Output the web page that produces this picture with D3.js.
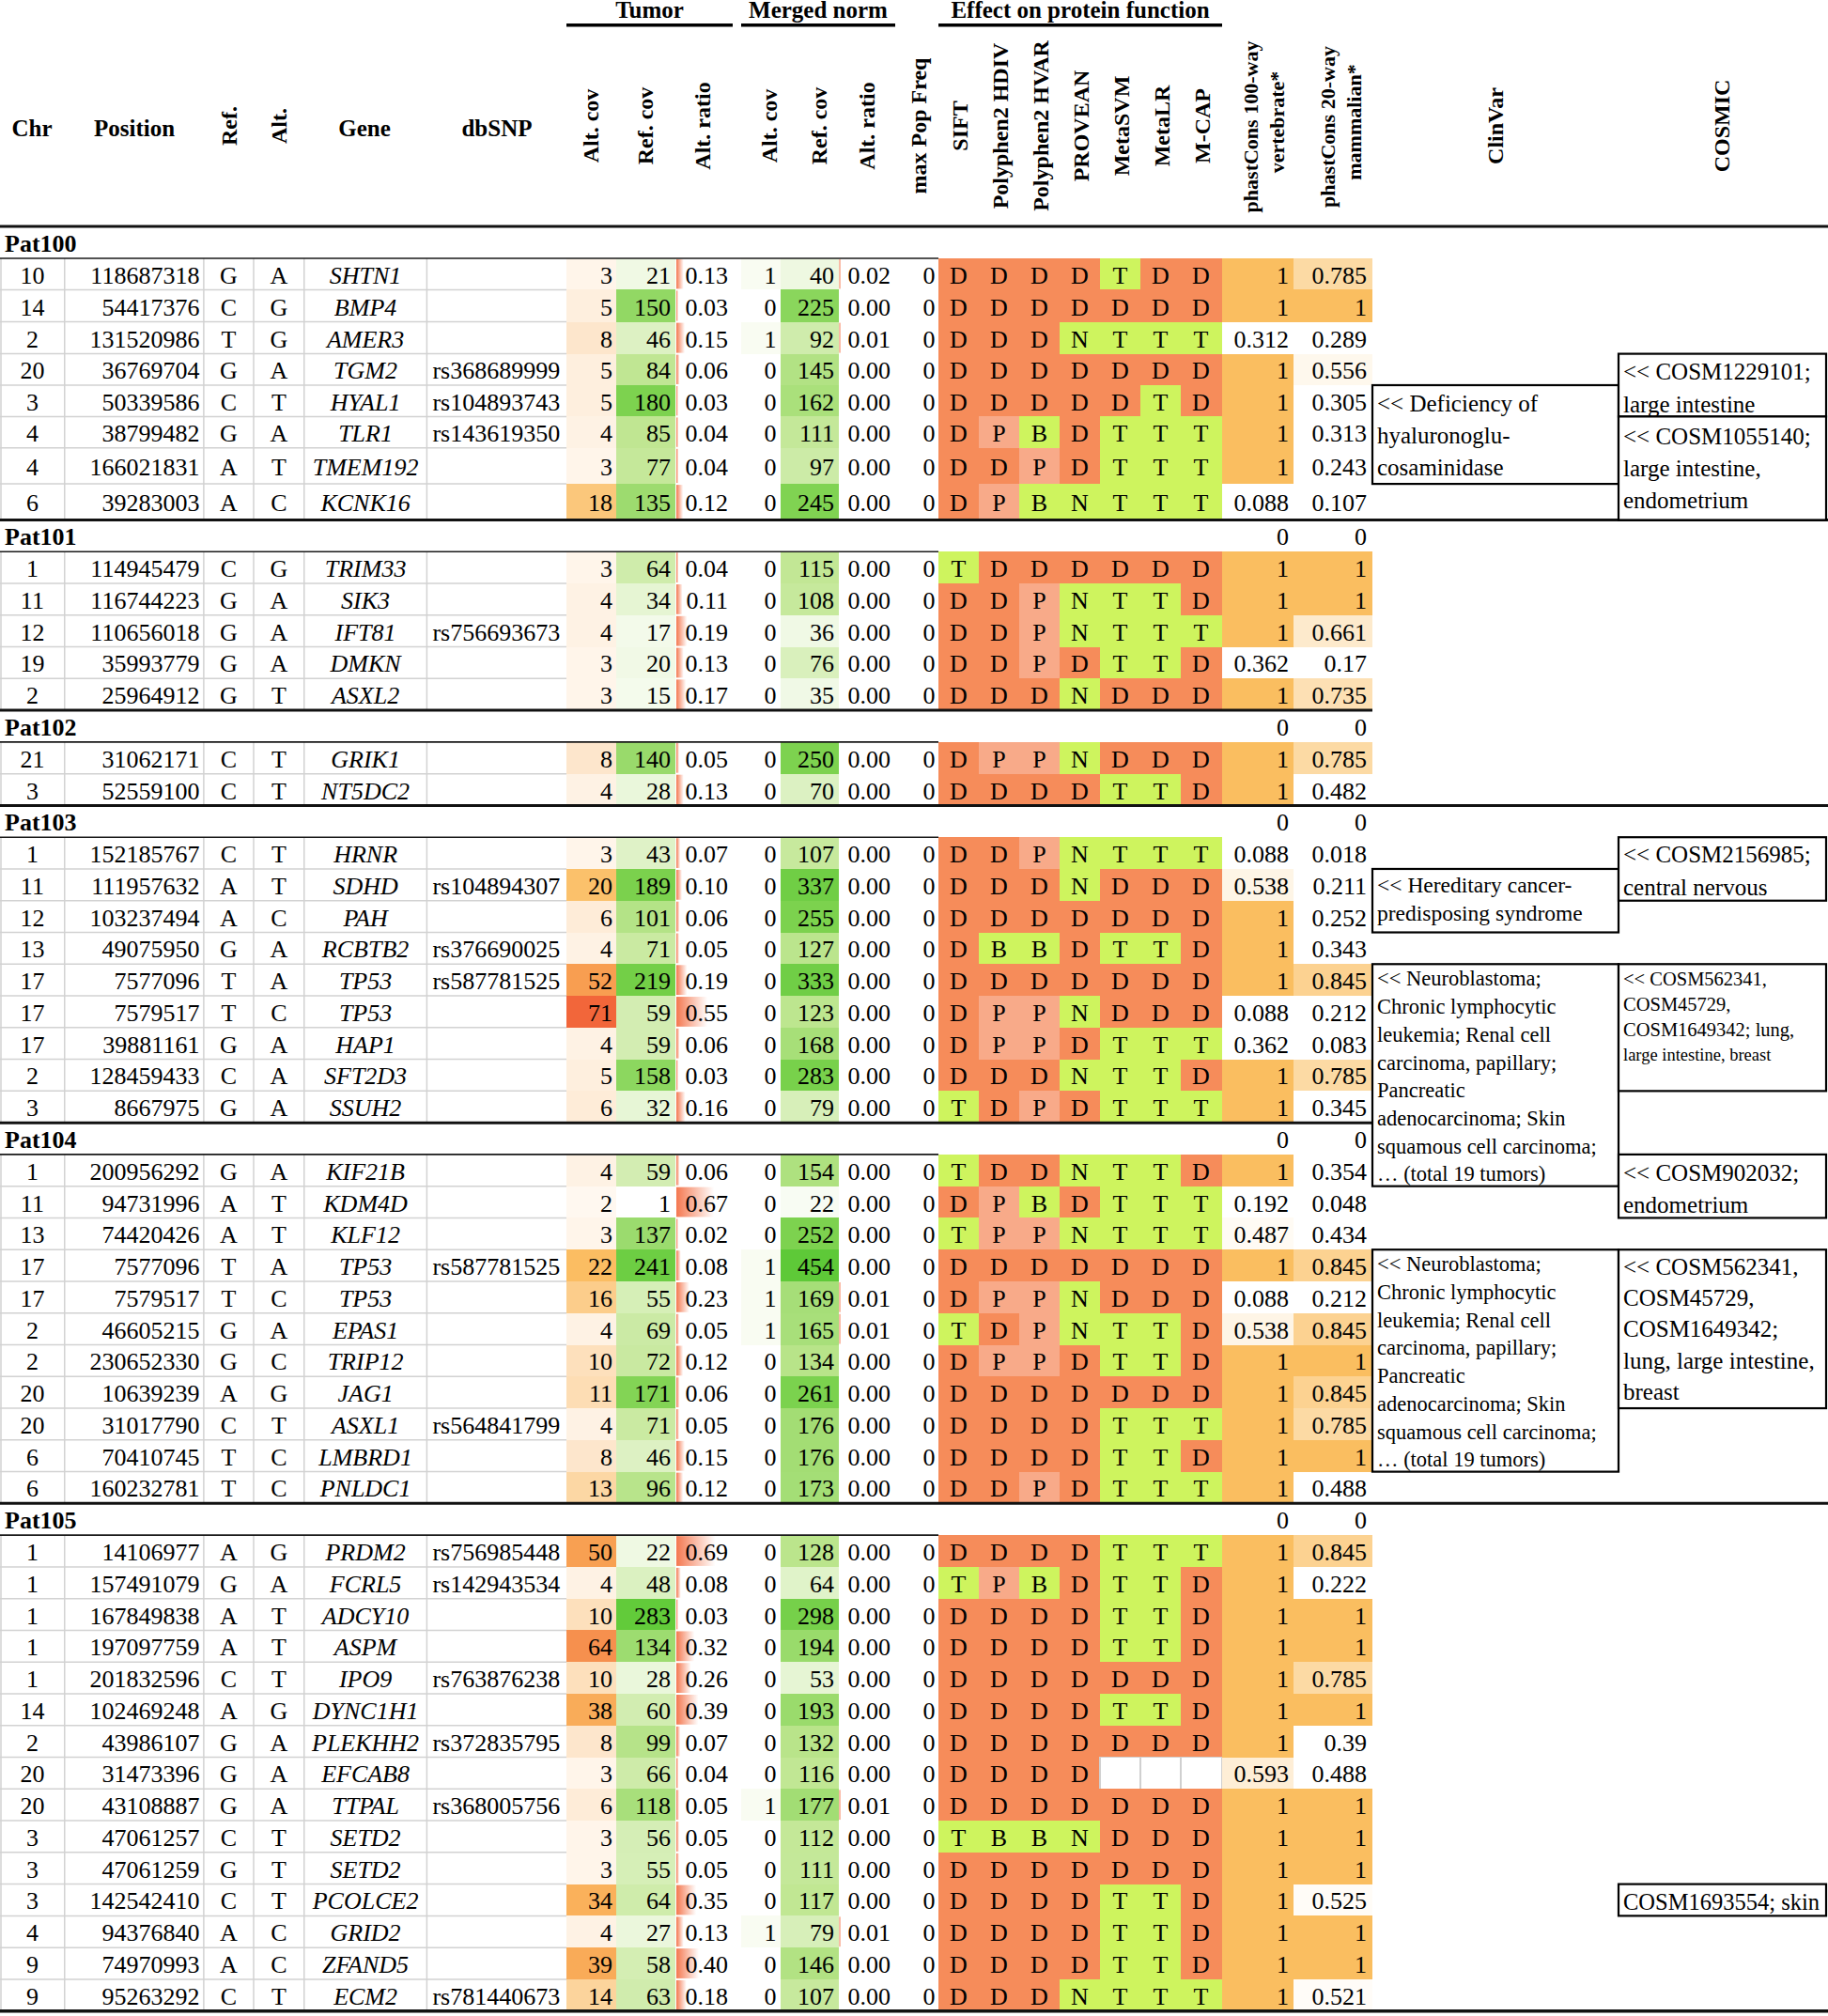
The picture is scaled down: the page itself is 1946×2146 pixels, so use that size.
<!DOCTYPE html>
<html><head><meta charset="utf-8">
<script src="https://cdn.jsdelivr.net/npm/d3@7"></script>
<style>
body{margin:0;background:#fff;overflow:hidden}
svg{display:block}
text{font-family:"Liberation Serif","Times New Roman",serif;fill:#000}
</style>
</head><body>
<svg id="c" width="1946" height="2146"></svg>
<script>
// ---------------- DATA ----------------
const patients = ["Pat100","Pat101","Pat102","Pat103","Pat104","Pat105"];
const patientSizes = [8,5,2,9,11,15];
const patientPc100 = [null,0,0,0,0,0];
const patientPc20  = [null,0,0,0,0,0];

const chr = ["10","14","2","20","3","4","4","6",
 "1","11","12","19","2",
 "21","3",
 "1","11","12","13","17","17","17","2","3",
 "1","11","13","17","17","2","2","20","20","6","6",
 "1","1","1","1","1","14","2","20","20","3","3","3","4","9","9"];
const position = [118687318,54417376,131520986,36769704,50339586,38799482,166021831,39283003,
 114945479,116744223,110656018,35993779,25964912,
 31062171,52559100,
 152185767,111957632,103237494,49075950,7577096,7579517,39881161,128459433,8667975,
 200956292,94731996,74420426,7577096,7579517,46605215,230652330,10639239,31017790,70410745,160232781,
 14106977,157491079,167849838,197097759,201832596,102469248,43986107,31473396,43108887,47061257,47061259,142542410,94376840,74970993,95263292];
const refAllele = ["G","C","T","G","C","G","A","A",
 "C","G","G","G","G",
 "C","C",
 "C","A","A","G","T","T","G","C","G",
 "G","A","A","T","T","G","G","A","C","T","T",
 "A","G","A","A","C","A","G","G","G","C","G","C","A","A","C"];
const altAllele = ["A","G","G","A","T","A","T","C",
 "G","A","A","A","T",
 "T","T",
 "T","T","C","A","A","C","A","A","A",
 "A","T","T","A","C","A","C","G","T","C","C",
 "G","A","T","T","T","G","A","A","A","T","T","T","C","C","T"];
const gene = ["SHTN1","BMP4","AMER3","TGM2","HYAL1","TLR1","TMEM192","KCNK16",
 "TRIM33","SIK3","IFT81","DMKN","ASXL2",
 "GRIK1","NT5DC2",
 "HRNR","SDHD","PAH","RCBTB2","TP53","TP53","HAP1","SFT2D3","SSUH2",
 "KIF21B","KDM4D","KLF12","TP53","TP53","EPAS1","TRIP12","JAG1","ASXL1","LMBRD1","PNLDC1",
 "PRDM2","FCRL5","ADCY10","ASPM","IPO9","DYNC1H1","PLEKHH2","EFCAB8","TTPAL","SETD2","SETD2","PCOLCE2","GRID2","ZFAND5","ECM2"];
const dbSNP = ["","","","rs368689999","rs104893743","rs143619350","","",
 "","","rs756693673","","",
 "","",
 "","rs104894307","","rs376690025","rs587781525","","","","",
 "","","","rs587781525","","","","","rs564841799","","",
 "rs756985448","rs142943534","","","rs763876238","","rs372835795","","rs368005756","","","","","","rs781440673"];
const tumorAltCov = [3,5,8,5,5,4,3,18,
 3,4,4,3,3,
 8,4,
 3,20,6,4,52,71,4,5,6,
 4,2,3,22,16,4,10,11,4,8,13,
 50,4,10,64,10,38,8,3,6,3,3,34,4,39,14];
const tumorRefCov = [21,150,46,84,180,85,77,135,
 64,34,17,20,15,
 140,28,
 43,189,101,71,219,59,59,158,32,
 59,1,137,241,55,69,72,171,71,46,96,
 22,48,283,134,28,60,99,66,118,56,55,64,27,58,63];
const tumorAltRatio = [0.13,0.03,0.15,0.06,0.03,0.04,0.04,0.12,
 0.04,0.11,0.19,0.13,0.17,
 0.05,0.13,
 0.07,0.10,0.06,0.05,0.19,0.55,0.06,0.03,0.16,
 0.06,0.67,0.02,0.08,0.23,0.05,0.12,0.06,0.05,0.15,0.12,
 0.69,0.08,0.03,0.32,0.26,0.39,0.07,0.04,0.05,0.05,0.05,0.35,0.13,0.40,0.18];
const normAltCov = [1,0,1,0,0,0,0,0,
 0,0,0,0,0,
 0,0,
 0,0,0,0,0,0,0,0,0,
 0,0,0,1,1,1,0,0,0,0,0,
 0,0,0,0,0,0,0,0,1,0,0,0,1,0,0];
const normRefCov = [40,225,92,145,162,111,97,245,
 115,108,36,76,35,
 250,70,
 107,337,255,127,333,123,168,283,79,
 154,22,252,454,169,165,134,261,176,176,173,
 128,64,298,194,53,193,132,116,177,112,111,117,79,146,107];
const normAltRatio = [0.02,0,0.01,0,0,0,0,0,
 0,0,0,0,0,
 0,0,
 0,0,0,0,0,0,0,0,0,
 0,0,0,0,0.01,0.01,0,0,0,0,0,
 0,0,0,0,0,0,0,0,0.01,0,0,0,0.01,0,0];
const maxPopFreq = new Array(50).fill(0);
const predictors = ["SIFT","Polyphen2 HDIV","Polyphen2 HVAR","PROVEAN","MetaSVM","MetaLR","M-CAP"];
const predictions = ["DDDDTDD","DDDDDDD","DDDNTTT","DDDDDDD","DDDDDTD","DPBDTTT","DDPDTTT","DPBNTTT",
 "TDDDDDD","DDPNTTD","DDPNTTT","DDPDTTD","DDDNDDD",
 "DPPNDDD","DDDDTTD",
 "DDPNTTT","DDDNDDD","DDDDDDD","DBBDTTD","DDDDDDD","DPPNDDD","DPPDTTT","DDDNTTD","TDPDTTT",
 "TDDNTTD","DPBDTTT","TPPNTTT","DDDDDDD","DPPNDDD","TDPNTTD","DPPDTTD","DDDDDDD","DDDDTTT","DDDDTTD","DDPDTTT",
 "DDDDTTT","TPBDTTD","DDDDTTD","DDDDTTD","DDDDDDD","DDDDTTD","DDDDDDD","DDDD---","DDDDDDD","TBBNDDD","DDDDDDD","DDDDTTD","DDDDTTD","DDDDTTD","DDDNTTT"];
const phastCons100 = [1,1,0.312,1,1,1,1,0.088,
 1,1,1,0.362,1,
 1,1,
 0.088,0.538,1,1,1,0.088,0.362,1,1,
 1,0.192,0.487,1,0.088,0.538,1,1,1,1,1,
 1,1,1,1,1,1,1,0.593,1,1,1,1,1,1,1];
const phastCons20 = [0.785,1,0.289,0.556,0.305,0.313,0.243,0.107,
 1,1,0.661,0.17,0.735,
 0.785,0.482,
 0.018,0.211,0.252,0.343,0.845,0.212,0.083,0.785,0.345,
 0.354,0.048,0.434,0.845,0.212,0.845,1,0.845,0.785,1,0.488,
 0.845,0.222,1,1,0.785,1,0.39,0.488,1,1,1,0.525,1,1,0.521];

const headerLabels = ["Chr","Position","Ref.","Alt.","Gene","dbSNP",
 "Alt. cov","Ref. cov","Alt. ratio","Alt. cov","Ref. cov","Alt. ratio","max Pop Freq",
 ["phastCons 100-way","vertebrate*"],["phastCons 20-way","mammalian*"],"ClinVar","COSMIC"];
const groupLabels = ["Tumor","Merged norm","Effect on protein function"];

const clinvarRows = [[4,6],[16,17],[19,24],[27,33]];
const clinvarText = [
 ["<< Deficiency of","hyaluronoglu-","cosaminidase"],
 ["<< Hereditary cancer-","predisposing syndrome"],
 ["<< Neuroblastoma;","Chronic lymphocytic","leukemia; Renal cell","carcinoma, papillary;","Pancreatic","adenocarcinoma; Skin","squamous cell carcinoma;","\u2026 (total 19 tumors)"],
 ["<< Neuroblastoma;","Chronic lymphocytic","leukemia; Renal cell","carcinoma, papillary;","Pancreatic","adenocarcinoma; Skin","squamous cell carcinoma;","\u2026 (total 19 tumors)"]
];
const cosmicRows = [[3,4],[5,7],[15,16],[19,22],[24,25],[27,31],[46,46]];
const cosmicText = [
 ["<< COSM1229101;","large intestine"],
 ["<< COSM1055140;","large intestine,","endometrium"],
 ["<< COSM2156985;","central nervous"],
 ["<< COSM562341,","COSM45729,","COSM1649342; lung,","large intestine, breast"],
 ["<< COSM902032;","endometrium"],
 ["<< COSM562341,","COSM45729,","COSM1649342;","lung, large intestine,","breast"],
 ["COSM1693554; skin"]
];

// ---------------- LAYOUT ----------------
const svg = d3.select("#c");
const N = gene.length;
const idx = d3.range(N);

const TOP = 241, RH = 33.77;
const pat100Heights = [33.4,34.2,34,33.4,33.4,33.4,38.3,38.4];
const labelTop = [], labelH = [], dataTop = [], dataH = [];
let yy = TOP;
patients.forEach((p,g)=>{
  const lh = g===0 ? 34 : RH;
  labelTop.push(yy); labelH.push(lh); yy += lh;
  for(let k=0;k<patientSizes[g];k++){
    const h = g===0 ? pat100Heights[k] : RH;
    dataTop.push(yy); dataH.push(h); yy += h;
  }
});
const tableBottom = yy;
const yTop = d3.scaleOrdinal(idx, dataTop);
const yH = d3.scaleOrdinal(idx, dataH);
const yMid = i => yTop(i) + yH(i)/2;

const colKeys = ["chr","pos","ref","alt","gene","dbsnp","tAlt","tRef","tRatio","nAlt","nRef","nRatio","maxPop","pred","pc100","pc20","clinvar","cosmic"];
const colStartArr = [0,68.75,216.9,270,323.75,454.4,603,656,719,789,831,892.5,956,999,1300,1377,1461,1723];
const colEndArr = colStartArr.slice(1).concat([1946]);
const x0 = d3.scaleOrdinal(colKeys, colStartArr);
const x1 = d3.scaleOrdinal(colKeys, colEndArr);
const xPred = d3.scaleBand(predictors, [999,1300]);

// ---------------- COLOURS ----------------
const tAltColor = d3.scaleLinear().domain([2,8,21,50,64,71])
  .range(["#FFF8F0","#FDE6CC","#FBBE63","#F8A052","#F6904E","#F2663A"]).clamp(true);
const tRefColor = d3.scaleLinear().domain([1,80,180,283])
  .range(["#FFFFFF","#C3E796","#7DD24F","#62CB3A"]).clamp(true);
const nRefColor = d3.scaleLinear().domain([10,120,250,454])
  .range(["#FFFFFF","#BFE690","#7DD24F","#5EC938"]).clamp(true);
const nAltColor = v => v>0 ? "#F9FCF2" : "#FFFFFF";
const pc100Color = d3.scaleLinear().domain([0.45,1]).range(["#FFFFFF","#FABE60"]).clamp(true);
const pc20Color = d3.scaleLinear().domain([0.5,1]).range(["#FFFFFF","#FABE60"]).clamp(true);
const predColor = {D:"#F68C5A",P:"#F8AA89",T:"#CEF45E",B:"#CEF45E",N:"#CEF45E"};

const defs = svg.append("defs");
const grad = defs.append("linearGradient").attr("id","bargrad")
  .attr("x1",0).attr("x2",1).attr("y1",0).attr("y2",0);
grad.append("stop").attr("offset",0).attr("stop-color","#F47850");
grad.append("stop").attr("offset",1).attr("stop-color","#FFFFFF");

// ---------------- CELLS ----------------
const gCells = svg.append("g").attr("shape-rendering","crispEdges");
function fillCol(key, values, colorFn){
  gCells.append("g").selectAll("rect").data(idx).join("rect")
    .attr("x",x0(key)).attr("width",x1(key)-x0(key))
    .attr("y",i=>yTop(i)).attr("height",i=>yH(i)+0.5)
    .attr("fill",i=>colorFn(values[i]));
}
fillCol("tAlt", tumorAltCov, tAltColor);
fillCol("tRef", tumorRefCov, tRefColor);
fillCol("nAlt", normAltCov, nAltColor);
fillCol("nRef", normRefCov, nRefColor);
fillCol("pc100", phastCons100, pc100Color);
fillCol("pc20", phastCons20, pc20Color);

// prediction cells
const predCells = [];
idx.forEach(i=>predictors.forEach((p,j)=>predCells.push({i,p,v:predictions[i][j]})));
gCells.append("g").selectAll("rect").data(predCells).join("rect")
  .attr("x",d=>xPred(d.p)).attr("width",xPred.bandwidth()+0.5)
  .attr("y",d=>yTop(d.i)).attr("height",d=>yH(d.i)+0.5)
  .attr("fill",d=>predColor[d.v]||"#FFFFFF")
  .attr("stroke",d=>predColor[d.v]?null:"#D0D0D0").attr("stroke-width",1.5);

// data bars
function bars(key, values){
  svg.append("g").selectAll("rect").data(idx.filter(i=>values[i]>0)).join("rect")
    .attr("x",x0(key)+1).attr("width",i=>Math.max(2, values[i]*60))
    .attr("y",i=>yTop(i)+1).attr("height",i=>yH(i)-2)
    .attr("fill","url(#bargrad)");
}
bars("tRatio", tumorAltRatio);
bars("nRatio", normAltRatio);

// ---------------- GRID (left part) ----------------
const gGrid = svg.append("g").attr("stroke","#D2D2D2").attr("stroke-width",1.5);
gGrid.selectAll("line.h").data(idx).join("line")
  .attr("x1",0).attr("x2",x0("tAlt"))
  .attr("y1",i=>yTop(i)+yH(i)).attr("y2",i=>yTop(i)+yH(i));
const vKeys = ["chr","pos","ref","alt","gene","dbsnp"];
gGrid.selectAll("g.v").data(idx).join("g").each(function(i){
  d3.select(this).selectAll("line").data(vKeys).join("line")
    .attr("x1",k=>k==="chr"?1:x0(k)).attr("x2",k=>k==="chr"?1:x0(k))
    .attr("y1",yTop(i)).attr("y2",yTop(i)+yH(i));
});

// ---------------- TEXT ----------------
const gText = svg.append("g").attr("font-size",26);
function colText(values, anchor, xpos, fmt, italic){
  gText.append("g").selectAll("text")
    .data(idx.filter(i=>values[i]!=="" && values[i]!=null)).join("text")
    .attr("x",xpos).attr("y",i=>yMid(i)+10)
    .attr("text-anchor",anchor)
    .attr("font-style",italic?"italic":null)
    .text(i=>fmt?fmt(values[i]):values[i]);
}
const mid = k => (x0(k)+x1(k))/2;
colText(chr,"middle",mid("chr"));
colText(position,"end",x1("pos")-4.5);
colText(refAllele,"middle",mid("ref"));
colText(altAllele,"middle",mid("alt"));
colText(gene,"middle",mid("gene"),null,true);
colText(dbSNP,"start",x0("dbsnp")+6);
colText(tumorAltCov,"end",x1("tAlt")-4);
colText(tumorRefCov,"end",x1("tRef")-5);
colText(tumorAltRatio,"end",775,v=>v.toFixed(2));
colText(normAltCov,"end",x1("nAlt")-4.5);
colText(normRefCov,"end",x1("nRef")-4.5);
colText(normAltRatio,"end",948,v=>v.toFixed(2));
colText(maxPopFreq,"end",x1("maxPop")-3.5);
colText(phastCons100,"end",x1("pc100")-5,v=>String(v));
colText(phastCons20,"end",x1("pc20")-6,v=>String(v));
gText.append("g").selectAll("text").data(predCells.filter(d=>predColor[d.v])).join("text")
  .attr("x",d=>xPred(d.p)+xPred.bandwidth()/2).attr("y",d=>yMid(d.i)+10)
  .attr("text-anchor","middle").text(d=>d.v);

// patient label rows
const gPat = svg.append("g");
patients.forEach((p,g)=>{
  const by = labelTop[g] + labelH[g]/2 + 10;
  gPat.append("text").attr("x",5).attr("y",by).attr("font-size",26)
    .attr("font-weight","bold").text(p);
  if(patientPc100[g]!=null) gPat.append("text").attr("x",x1("pc100")-5).attr("y",by)
    .attr("font-size",26).attr("text-anchor","end").text(patientPc100[g]);
  if(patientPc20[g]!=null) gPat.append("text").attr("x",x1("pc20")-6).attr("y",by)
    .attr("font-size",26).attr("text-anchor","end").text(patientPc20[g]);
  gPat.append("line").attr("x1",0).attr("x2",x0("pred"))
    .attr("y1",labelTop[g]+labelH[g]).attr("y2",labelTop[g]+labelH[g])
    .attr("stroke","#1a1a1a").attr("stroke-width",1.6);
  const partial = (p==="Pat102"||p==="Pat104");
  gPat.append("line").attr("x1",0).attr("x2",partial?x0("clinvar"):1946)
    .attr("y1",labelTop[g]).attr("y2",labelTop[g])
    .attr("stroke","#111").attr("stroke-width",3);
});
gPat.append("line").attr("x1",0).attr("x2",1946)
  .attr("y1",tableBottom).attr("y2",tableBottom)
  .attr("stroke","#111").attr("stroke-width",3.5);

// ---------------- HEADER ----------------
const gHead = svg.append("g").attr("font-weight","bold");
const hCenterY = 134;
const horizKeys = {0:34,1:143,4:388,5:529};
const rotX = {2:244,3:297,6:629,7:687,8:748,9:819,10:872,11:923,12:978,15:1592,16:1833};
headerLabels.forEach((lab,k)=>{
  if(horizKeys[k]!==undefined){
    gHead.append("text").attr("x",horizKeys[k]).attr("y",145).attr("font-size",25)
      .attr("text-anchor","middle").text(lab);
  } else if(rotX[k]!==undefined){
    gHead.append("text").attr("transform",`translate(${rotX[k]},${hCenterY}) rotate(-90)`)
      .attr("font-size",24).attr("text-anchor","middle").attr("dominant-baseline","central").text(lab);
  }
});
predictors.forEach(p=>{
  gHead.append("text").attr("transform",`translate(${xPred(p)+xPred.bandwidth()/2+1},${hCenterY}) rotate(-90)`)
    .attr("font-size",24).attr("text-anchor","middle").attr("dominant-baseline","central").text(p);
});
[[13,1331,1359],[14,1413,1441]].forEach(([k,xa,xb])=>{
  const lab = headerLabels[k];
  gHead.append("text").attr("transform",`translate(${xa},${hCenterY+1}) rotate(-90)`)
    .attr("font-size",22).attr("text-anchor","middle").attr("dominant-baseline","central").text(lab[0]);
  gHead.append("text").attr("transform",`translate(${xb},${hCenterY-4}) rotate(-90)`)
    .attr("font-size",22).attr("text-anchor","middle").attr("dominant-baseline","central").text(lab[1]);
});
const groupSpans = [[x0("tAlt"),780],[x0("nAlt"),953],[x0("pred"),1301]];
groupLabels.forEach((lab,k)=>{
  const [a,b] = groupSpans[k];
  gHead.append("text").attr("x",(a+b)/2).attr("y",18.5).attr("font-size",25)
    .attr("text-anchor","middle").text(lab);
  gHead.append("line").attr("x1",a).attr("x2",b).attr("y1",26.7).attr("y2",26.7)
    .attr("stroke","#000").attr("stroke-width",3.5);
});

// ---------------- ANNOTATION BOXES ----------------
const clinvarStyle = [
  {fs:25,first:19.3,step:34},
  {fs:23.5,first:17.4,step:30},
  {fs:22.5,first:15.7,step:29.7},
  {fs:22.5,first:15.7,step:29.7}
];
const cosmicStyle = [
  {fs:25,first:19.3,step:35},
  {fs:25,first:21.7,step:34},
  {fs:25,first:19,step:35},
  {fs:20.5,first:15.7,step:27,sizes:[20.5,20.5,20.5,18.5]},
  {fs:25,first:19.4,step:34.3},
  {fs:25,first:18.4,step:33.3},
  {fs:24.5,first:19.6,step:34}
];
function drawBoxes(rows, texts, styles, key){
  const g = svg.append("g");
  rows.forEach(([a,b],n)=>{
    const top = yTop(a), bot = yTop(b)+yH(b);
    const left = x0(key), right = Math.min(x1(key),1944);
    g.append("rect").attr("x",left).attr("y",top).attr("width",right-left).attr("height",bot-top)
      .attr("fill","#fff").attr("stroke","#000").attr("stroke-width",2.2);
    const st = styles[n];
    texts[n].forEach((line,li)=>{
      const fs = st.sizes ? st.sizes[li] : st.fs;
      g.append("text").attr("x",left+5).attr("y",top+st.first+li*st.step+fs*0.33)
        .attr("font-size",fs).text(line);
    });
  });
}
drawBoxes(clinvarRows, clinvarText, clinvarStyle, "clinvar");
drawBoxes(cosmicRows, cosmicText, cosmicStyle, "cosmic");
</script>
</body></html>
